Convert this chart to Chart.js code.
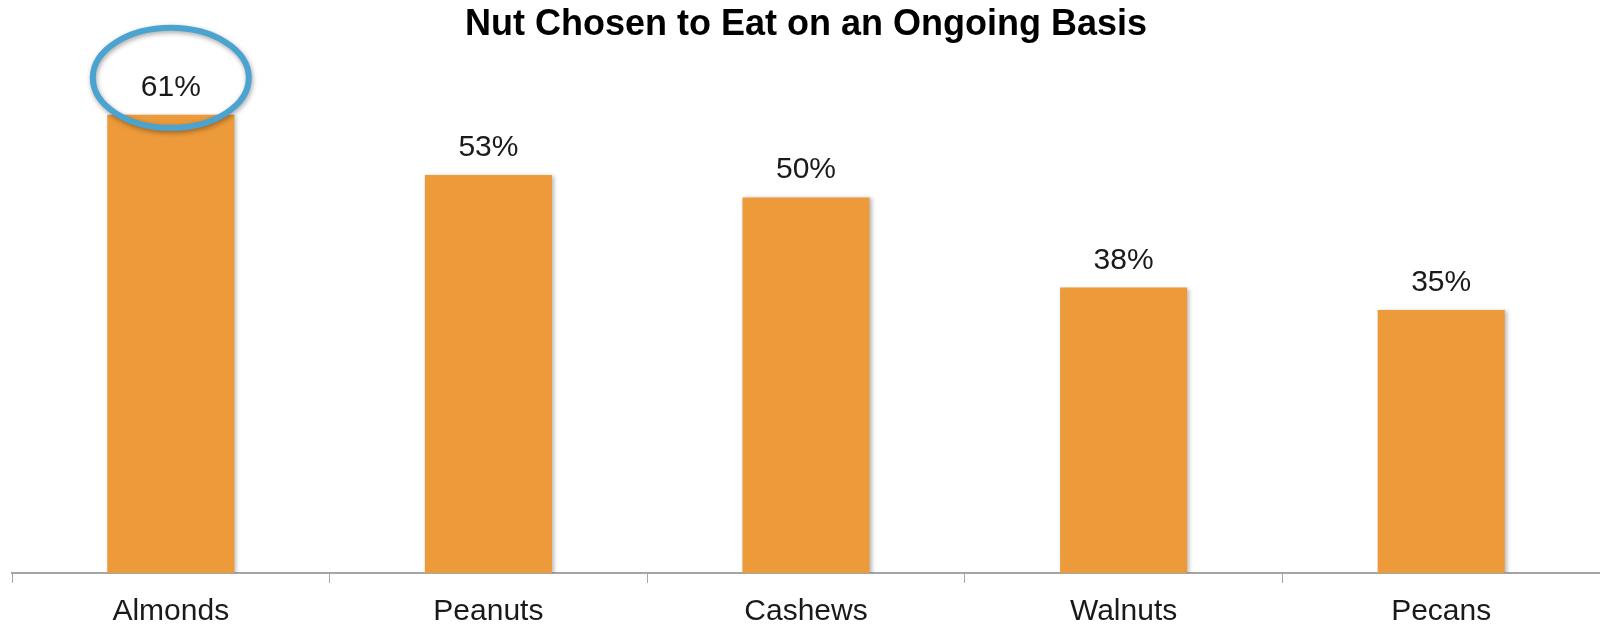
<!DOCTYPE html>
<html>
<head>
<meta charset="utf-8">
<script src="https://cdn.jsdelivr.net/npm/chart.js@4/dist/chart.umd.min.js"></script>
<style>
  html, body { margin: 0; padding: 0; background: #fff; }
  #wrap { width: 1600px; height: 626px; }
</style>
</head>
<body>
<div id="wrap"><canvas id="chart"></canvas></div>
<script>
const NUTS = ['Almonds', 'Peanuts', 'Cashews', 'Walnuts', 'Pecans']
const SHARE = [61, 53, 50, 38, 35]
const HIGHLIGHT = 0 // index of the circled bar

const BAR = '#EC9A3A'
const RING = '#4BA3D0'
const FONT = '"Liberation Sans", Arial, sans-serif'

// soft drop shadow under the bars
const barShadow = {
  id: 'barShadow',
  beforeDatasetsDraw(chart) {
    const ctx = chart.ctx
    ctx.save()
    ctx.shadowColor = 'rgba(0,0,0,0.28)'
    ctx.shadowBlur = 4
    ctx.shadowOffsetX = 2
    ctx.shadowOffsetY = 1
  },
  afterDatasetsDraw(chart) {
    chart.ctx.restore()
  }
}

// percent labels over each bar, plus the ring on the highlighted one
const valueLabels = {
  id: 'valueLabels',
  afterDatasetsDraw(chart) {
    const ctx = chart.ctx
    const bars = chart.getDatasetMeta(0).data
    ctx.save()
    ctx.font = '30px ' + FONT
    ctx.fillStyle = '#1a1a1a'
    ctx.textAlign = 'center'
    ctx.textBaseline = 'alphabetic'
    bars.forEach((bar, i) => {
      ctx.fillText(SHARE[i] + '%', bar.x, bar.y - 19)
    })

    const hb = bars[HIGHLIGHT]
    ctx.shadowColor = 'rgba(0,0,0,0.35)'
    ctx.shadowBlur = 5
    ctx.shadowOffsetX = 1
    ctx.shadowOffsetY = 2
    ctx.strokeStyle = RING
    ctx.lineWidth = 6
    ctx.beginPath()
    ctx.ellipse(hb.x, hb.y - 37, 78, 50, 0, 0, Math.PI * 2)
    ctx.stroke()
    ctx.restore()
  }
}

const ctx = document.getElementById('chart')
new Chart(ctx, {
  type: 'bar',
  data: {
    labels: NUTS,
    datasets: [{
      data: SHARE,
      backgroundColor: BAR,
      borderWidth: 0,
      barPercentage: 0.4,
      categoryPercentage: 1
    }]
  },
  options: {
    responsive: true,
    maintainAspectRatio: false,
    animation: false,
    events: [],
    layout: { padding: { left: 12, right: 0, top: 0, bottom: 0 } },
    scales: {
      x: {
        offset: true,
        afterFit(scale) { scale.height = 53 },
        border: { display: true, color: '#A6A6A6', width: 2 },
        grid: {
          offset: true,
          drawOnChartArea: false,
          drawTicks: true,
          tickLength: 10,
          color: '#A6A6A6',
          lineWidth: 1
        },
        ticks: {
          color: '#1a1a1a',
          padding: 11,
          maxRotation: 0,
          font: { family: FONT, size: 30 }
        }
      },
      y: {
        display: false,
        min: 0,
        max: 70
      }
    },
    plugins: {
      legend: { display: false },
      tooltip: { enabled: false },
      title: {
        display: true,
        text: 'Nut Chosen to Eat on an Ongoing Basis',
        color: '#000',
        font: { family: FONT, size: 36, weight: 'bold' },
        padding: { top: 3, bottom: 1 }
      }
    }
  },
  plugins: [barShadow, valueLabels]
})
</script>
</body>
</html>
